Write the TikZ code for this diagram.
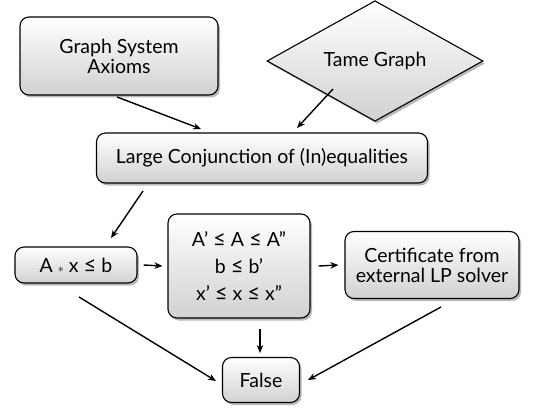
\documentclass[tikz,border=0pt]{standalone}
\usepackage{fontspec}
\setmainfont{Lato}
\usetikzlibrary{shapes.geometric,shadows,arrows.meta}
\begin{document}
\begin{tikzpicture}[x=1pt,y=-1pt,
  every node/.style={font=\fontsize{19.5}{23}\selectfont, align=center},
  box/.style={draw=black, line width=1.1pt, rounded corners=9pt, top color=white, bottom color=black!18,
    drop shadow={opacity=0.55, shadow xshift=2pt, shadow yshift=-2.5pt}, inner sep=0pt},
  dia/.style={diamond, draw=black, line width=1.1pt, top color=white, bottom color=black!18,
    drop shadow={opacity=0.55, shadow xshift=2pt, shadow yshift=-2.5pt}, inner sep=0pt,
    minimum width=216pt, minimum height=68pt},
  arr/.style={-{Stealth[length=8pt,width=6.5pt]}, line width=1.4pt}]
\useasboundingbox (0,0) rectangle (545,409);
\node[box, minimum width=198pt, minimum height=78pt] (axioms) at (119,56) {Graph System\\[-3pt]Axioms};
\node[dia] (tame) at (375,61) {Tame Graph};
\node[box, minimum width=331pt, minimum height=50pt] (large) at (262,158) {Large Conjunction of (In)equalities};
\node[box, minimum width=122pt, minimum height=36pt] (ax) at (76,265) {A {\fontsize{12}{12}\selectfont$\ast$} x {\fontsize{22}{22}\selectfont ≤} b};
\node[box, minimum width=142pt, minimum height=104pt] (mid) at (239,266) {A’ {\fontsize{22}{22}\selectfont ≤} A {\fontsize{22}{22}\selectfont ≤} A”\\[4pt]b {\fontsize{22}{22}\selectfont ≤} b’\\[4pt]x’ {\fontsize{22}{22}\selectfont ≤} x {\fontsize{22}{22}\selectfont ≤} x”};
\node[box, minimum width=174pt, minimum height=67pt] (cert) at (432,265) {Certificate from\\[-3pt]external LP solver};
\node[box, minimum width=77pt, minimum height=45pt] (false) at (261,380) {False};
\coordinate (a1) at (117,97);
\coordinate (a2) at (201,129);
\coordinate (t1) at (333,89);
\coordinate (t2) at (297,128);
\coordinate (l1) at (143,191);
\coordinate (l2) at (111,238);
\coordinate (m1) at (260,329);
\coordinate (m2) at (260,353);
\coordinate (f1) at (79,297);
\coordinate (f2) at (216,381);
\coordinate (c1) at (441,307);
\coordinate (c2) at (308,380);
\draw[arr] (a1) -- (a2);
\draw[arr] (t1) -- (t2);
\draw[arr] (l1) -- (l2);
\draw[arr] ([xshift=6pt]ax.east) -- ([xshift=-5pt]mid.west);
\draw[arr] ([xshift=8pt]mid.east) -- ([xshift=-6pt]cert.west);
\draw[arr] (m1) -- (m2);
\draw[arr] (f1) -- (f2);
\draw[arr] (c1) -- (c2);
\end{tikzpicture}
\end{document}
